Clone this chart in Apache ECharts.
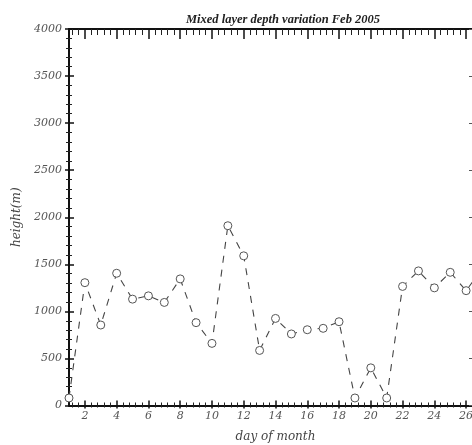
<!DOCTYPE html>
<html>
<head>
<meta charset="utf-8">
<script src="https://cdn.jsdelivr.net/npm/echarts@6/dist/echarts.min.js"></script>
<style>
  html, body { margin: 0; padding: 0; background: #fff; }
  #chart { width: 472px; height: 445px; }
</style>
</head>
<body>
<div id="chart"></div>
<script>
// Mixed layer depth, February 2005
const days    = [1, 2, 3, 4, 5, 6, 7, 8, 9, 10, 11, 12, 13, 14, 15, 16, 17, 18, 19, 20, 21, 22, 23, 24, 25, 26, 27];
const heights = [80, 1305, 855, 1405, 1130, 1165, 1095, 1345, 880, 660, 1910, 1590, 585, 925, 760, 805, 820, 890, 80, 400, 80, 1265, 1430, 1250, 1415, 1220, 1450];

// Axis ranges and tick positions
const dayMin = 1, dayMax = 27;
const dayMajorTicks = [2, 4, 6, 8, 10, 12, 14, 16, 18, 20, 22, 24, 26];
const dayMinorStep = 0.4;
const heightMin = 0, heightMax = 4000, heightStep = 500;

// minor day ticks between the even-day major ticks
const dayMinorTicks = [];
for (let k = -2; k <= 64; k++) {
  const v = Math.round((2 + k * dayMinorStep) * 10) / 10;
  if (v > dayMin && v < dayMax && Math.abs(v - Math.round(v / 2) * 2) > 1e-6) {
    dayMinorTicks.push(v);
  }
}

const labelFont = {
  fontFamily: 'DejaVu Serif',
  fontStyle: 'italic',
  fontSize: 11,
  color: '#555'
};
const axisBlack = { color: '#111', width: 2 };

function dayAxis(position, opts) {
  return Object.assign({
    type: 'value', gridIndex: 0, position: position,
    min: dayMin, max: dayMax,
    axisLine: { show: false },
    axisLabel: { show: false },
    splitLine: { show: false }
  }, opts);
}
function heightAxis(position, opts) {
  return Object.assign({
    type: 'value', gridIndex: 0, position: position,
    min: heightMin, max: heightMax, interval: heightStep,
    axisLine: { show: false },
    axisLabel: { show: false },
    splitLine: { show: false }
  }, opts);
}

const chart = echarts.init(document.getElementById('chart'), null, { renderer: 'canvas' });
chart.setOption({
  animation: false,
  backgroundColor: '#fff',
  title: {
    text: 'Mixed layer depth variation Feb 2005',
    left: 278, top: 8, textAlign: 'center',
    textStyle: {
      fontFamily: 'Liberation Serif', fontStyle: 'italic', fontWeight: 'bold',
      fontSize: 12.5, color: '#222'
    }
  },
  grid: { left: 69, top: 29, width: 413, height: 376.5, outerBoundsMode: 'none' },
  xAxis: [
    dayAxis('bottom', {
      axisLine: { show: true, onZero: false, lineStyle: axisBlack },
      axisTick: { show: true, inside: true, length: 5, customValues: dayMajorTicks, lineStyle: { color: '#111', width: 1.5 } },
      axisLabel: Object.assign({ show: true, margin: 5, customValues: dayMajorTicks }, labelFont),
      name: 'day of month', nameLocation: 'middle', nameGap: 25,
      nameTextStyle: { fontFamily: 'DejaVu Serif', fontStyle: 'italic', fontSize: 12, color: '#444' }
    }),
    dayAxis('bottom', {
      axisTick: { show: true, inside: false, length: 3, customValues: dayMajorTicks, lineStyle: { color: '#111', width: 1.5 } }
    }),
    dayAxis('bottom', {
      axisTick: { show: true, inside: true, length: 3, customValues: dayMinorTicks, lineStyle: { color: '#222', width: 1 } }
    }),
    dayAxis('bottom', {
      axisTick: { show: true, inside: false, length: 2, customValues: dayMinorTicks, lineStyle: { color: '#222', width: 1 } }
    }),
    dayAxis('top', {
      axisLine: { show: true, onZero: false, lineStyle: axisBlack },
      axisTick: { show: true, inside: true, length: 10, customValues: dayMajorTicks, lineStyle: { color: '#111', width: 1.5 } }
    }),
    dayAxis('top', {
      axisTick: { show: true, inside: true, length: 6, customValues: dayMinorTicks, lineStyle: { color: '#222', width: 1 } }
    })
  ],
  yAxis: [
    heightAxis('left', {
      axisLine: { show: true, onZero: false, lineStyle: axisBlack },
      axisTick: { show: true, inside: true, length: 5, lineStyle: { color: '#111', width: 1.5 } },
      minorTick: { show: true, splitNumber: 5, length: 3, lineStyle: { color: '#222', width: 1 } },
      axisLabel: Object.assign({ show: true, margin: 7, formatter: v => String(v) }, labelFont),
      name: 'height(m)', nameLocation: 'middle', nameGap: 37, nameRotate: 90,
      nameTextStyle: { fontFamily: 'DejaVu Serif', fontStyle: 'italic', fontSize: 12, color: '#444' }
    }),
    heightAxis('left', {
      axisTick: { show: true, inside: false, length: 4, lineStyle: { color: '#111', width: 1.5 } },
      minorTick: { show: true, splitNumber: 5, length: 3, lineStyle: { color: '#222', width: 1 } }
    }),
    heightAxis('right', {
      axisLine: { show: true, onZero: false, lineStyle: axisBlack },
      axisTick: { show: true, inside: true, length: 13, lineStyle: { color: '#555', width: 1 } }
    })
  ],
  series: [{
    type: 'line',
    xAxisIndex: 0, yAxisIndex: 0,
    data: days.map((d, i) => [d, heights[i]]),
    symbol: 'circle',
    symbolSize: 8,
    itemStyle: { color: '#fff', borderColor: '#555', borderWidth: 1 },
    lineStyle: { color: '#444', width: 1.1, type: [7, 7] },
    clip: true
  }]
});
</script>
</body>
</html>
